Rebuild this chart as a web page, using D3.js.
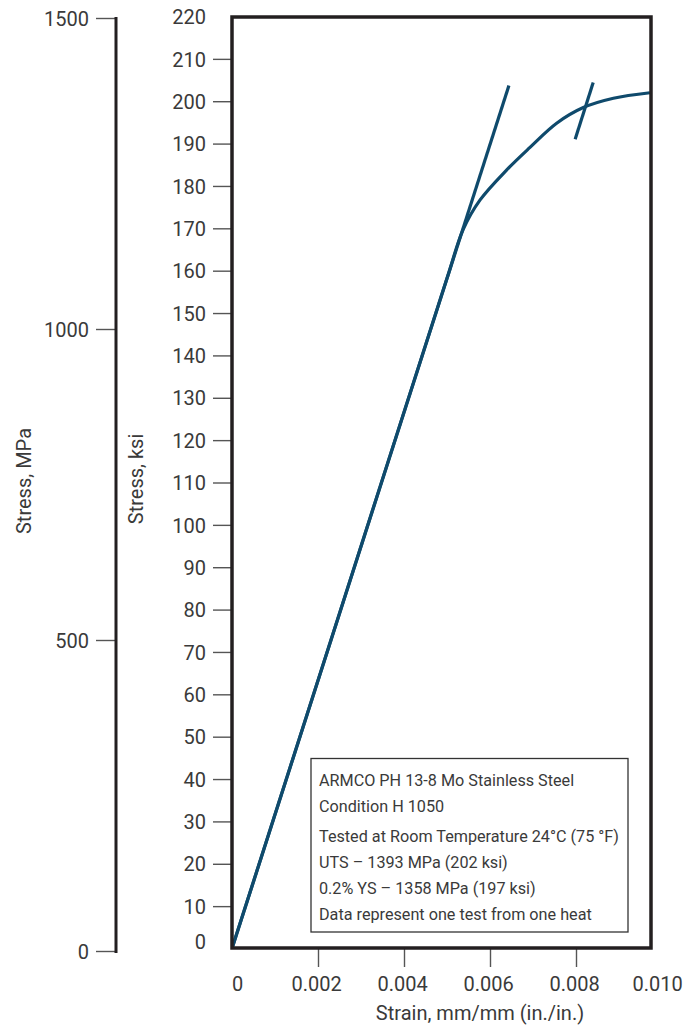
<!DOCTYPE html>
<html>
<head>
<meta charset="utf-8">
<script src="https://cdn.jsdelivr.net/npm/d3@7"></script>
<style>
  html, body { margin: 0; padding: 0; background: #fff; }
  svg { display: block; }
  text { font-family: Roboto, "Liberation Sans", sans-serif; font-weight: 400; fill: #3a3a3a; }
</style>
</head>
<body>
<svg id="chart" width="699" height="1027"></svg>
<script>
// ---- data ----
const strainTicks = [0, 0.002, 0.004, 0.006, 0.008, 0.010];
const ksiTicks = [0,10,20,30,40,50,60,70,80,90,100,110,120,130,140,150,160,170,180,190,200,210,220];
const mpaTicks = [0, 500, 1000, 1500];
// measured stress-strain curve (strain, ksi)
const curveStrain = [0, 0.0025, 0.0050, 0.00538, 0.00577, 0.00639, 0.00693, 0.00755, 0.00817, 0.00887, 0.00972];
const curveKsi    = [0, 79.1, 158.2, 169.8, 176.7, 183.8, 189.1, 194.8, 198.5, 200.7, 202.0];
// elastic modulus line (strain, ksi)
const modulusStrain = [0, 0.00644];
const modulusKsi    = [0, 203.7];
// 0.2% offset line (strain, ksi)
const offsetStrain = [0.00798, 0.00840];
const offsetKsi    = [191.0, 204.4];
const noteLines = [
  "ARMCO PH 13-8 Mo Stainless Steel",
  "Condition H 1050",
  "Tested at Room Temperature 24°C (75 °F)",
  "UTS – 1393 MPa (202 ksi)",
  "0.2% YS – 1358 MPa (197 ksi)",
  "Data represent one test from one heat"
];
const xTitle = "Strain, mm/mm (in./in.)";
const yKsiTitle = "Stress, ksi";
const yMpaTitle = "Stress, MPa";

// ---- layout ----
const svg = d3.select("#chart");
svg.append("rect").attr("width", 699).attr("height", 1027).attr("fill", "#fff");

const frame = {left: 232, right: 651, top: 17, bottom: 948};
const x = d3.scaleLinear().domain([0, 0.010]).range([232, 662]);
const y = d3.scaleLinear().domain([0, 220]).range([948.5, 16.5]);
const yM = d3.scaleLinear().domain([0, 1500]).range([951, 18]);

const lineColor = "#0f4a6c";
const tickColor = "#555";
const textColor = "#3a3a3a";
const fs = 20;

// ksi axis
const gK = svg.append("g").attr("transform", `translate(${frame.left},0)`)
  .call(d3.axisLeft(y).tickValues(ksiTicks).tickSize(19).tickPadding(7).tickFormat(d3.format("d")));
gK.select(".domain").remove();
gK.selectAll(".tick line").attr("stroke", tickColor).attr("stroke-width", 1.4)
  .filter(d => d === 0 || d === 220).remove();
gK.selectAll(".tick text").attr("font-size", fs).attr("font-family", null).attr("fill", textColor)
  .attr("dy", d => d === 0 ? "0em" : "0.36em");

// MPa axis
const gM = svg.append("g").attr("transform", "translate(116,0)")
  .call(d3.axisLeft(yM).tickValues(mpaTicks).tickSize(20).tickPadding(7).tickFormat(d3.format("d")));
gM.select(".domain").remove();
gM.selectAll(".tick line").attr("stroke", tickColor).attr("stroke-width", 1.4);
gM.selectAll(".tick text").attr("font-size", fs).attr("font-family", null).attr("fill", textColor).attr("dy", "0.36em");
svg.append("line").attr("x1", 116).attr("x2", 116).attr("y1", 17).attr("y2", 953)
  .attr("stroke", "#231f20").attr("stroke-width", 3);

// x axis
const gX = svg.append("g").attr("transform", `translate(0,${frame.bottom})`)
  .call(d3.axisBottom(x).tickValues(strainTicks).tickSize(19).tickPadding(10)
    .tickFormat(d => d === 0 ? "0" : d3.format(".3f")(d)));
gX.select(".domain").remove();
gX.selectAll(".tick line").attr("stroke", tickColor).attr("stroke-width", 1.4)
  .filter(d => d === 0 || d === 0.010).remove();
gX.selectAll(".tick text").attr("font-size", fs).attr("font-family", null).attr("fill", textColor)
  .attr("dx", d => d === 0 ? 5 : (d === 0.010 ? -5 : -2));

// titles
svg.append("text").attr("x", 480).attr("y", 1020).attr("text-anchor", "middle")
  .attr("font-size", 20).text(xTitle);
svg.append("text").attr("transform", "translate(143,479) rotate(-90)").attr("text-anchor", "middle")
  .attr("font-size", 20).text(yKsiTitle);
svg.append("text").attr("transform", "translate(31,481) rotate(-90)").attr("text-anchor", "middle")
  .attr("font-size", 20).text(yMpaTitle);

// clip to frame
svg.append("clipPath").attr("id", "clip").append("rect")
  .attr("x", frame.left).attr("y", frame.top).attr("width", frame.right - frame.left).attr("height", frame.bottom - frame.top);

const plot = svg.append("g").attr("clip-path", "url(#clip)");
plot.append("path").datum(d3.zip(curveStrain, curveKsi))
  .attr("d", d3.line().x(d => x(d[0])).y(d => y(d[1])).curve(d3.curveCatmullRom.alpha(0.5)))
  .attr("fill", "none")
  .attr("stroke", lineColor).attr("stroke-width", 3.2).attr("stroke-linejoin", "round");
plot.append("path").datum(d3.zip(modulusStrain, modulusKsi))
  .attr("d", d3.line().x(d => x(d[0])).y(d => y(d[1]))).attr("fill", "none")
  .attr("stroke", lineColor).attr("stroke-width", 3.2);
plot.append("path").datum(d3.zip(offsetStrain, offsetKsi))
  .attr("d", d3.line().x(d => x(d[0])).y(d => y(d[1]))).attr("fill", "none")
  .attr("stroke", lineColor).attr("stroke-width", 3.2);

// note box
const box = svg.append("g");
box.append("rect").attr("x", 311).attr("y", 758.5).attr("width", 317).attr("height", 173.5)
  .attr("fill", "#fff").attr("stroke", "#333").attr("stroke-width", 1.3);
const baselines = [786, 812, 842, 868, 894, 920];
box.selectAll("text.note").data(noteLines).join("text").attr("class", "note")
  .attr("x", 319).attr("y", (d, i) => baselines[i]).attr("font-size", 16.2).text(d => d);

// frame
svg.append("rect").attr("x", frame.left).attr("y", frame.top)
  .attr("width", frame.right - frame.left).attr("height", frame.bottom - frame.top)
  .attr("fill", "none").attr("stroke", "#231f20").attr("stroke-width", 3.5);
</script>
</body>
</html>
